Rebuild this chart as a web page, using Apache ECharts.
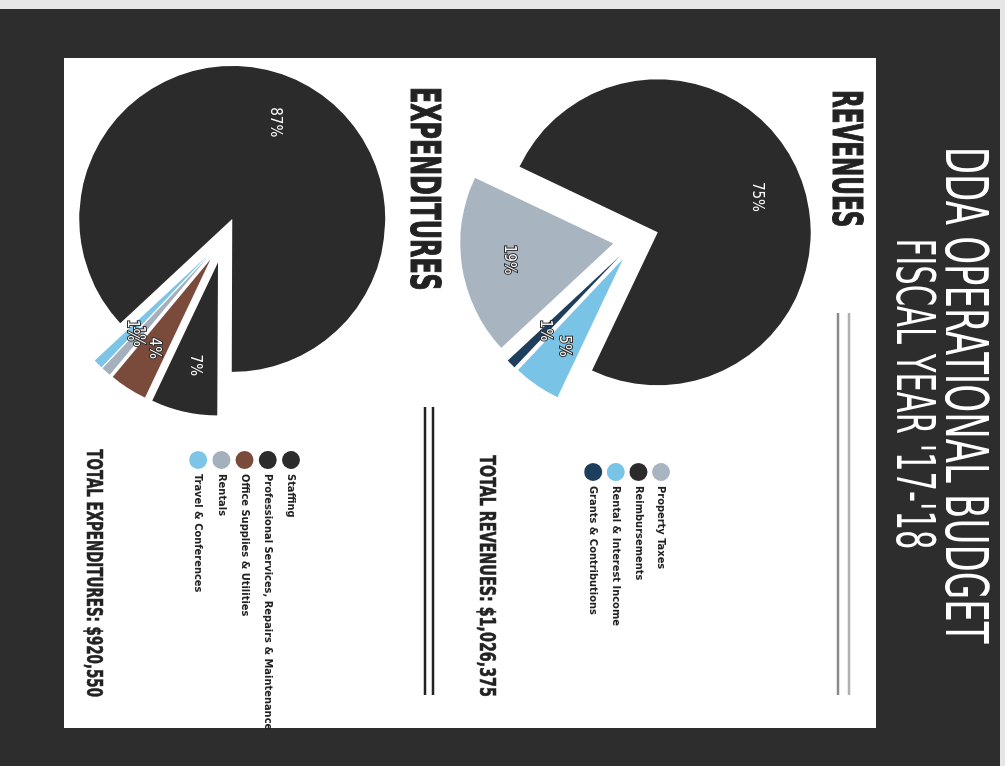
<!DOCTYPE html>
<html>
<head>
<meta charset="utf-8">
<script src="https://cdn.jsdelivr.net/npm/echarts@6/dist/echarts.min.js"></script>
<style>
  html, body { margin: 0; padding: 0; background: #2d2d2d; overflow: hidden; width: 1005px; height: 766px; }
  /* The budget sheet is laid out portrait and turned a quarter-turn clockwise onto the landscape window. */
  #sheet {
    position: absolute; left: 0; top: 0;
    width: 766px; height: 1005px;
    transform-origin: 0 0;
    transform: translate(1005px, 0) rotate(90deg);
  }
</style>
</head>
<body>
<div id="sheet"></div>
<script>
// Revenue breakdown (share of total, %)
const revenueCategories = ['Property Taxes', 'Reimbursements', 'Rental & Interest Income', 'Grants & Contributions'];
const revenueShares = [19, 75, 5, 1];
const revenueColors = ['#a9b4c1', '#2b2b2b', '#78c3e6', '#1d3e5c'];

// Expenditure breakdown (share of total, %)
const expenditureCategories = ['Staffing', 'Professional Services, Repairs & Maintenance', 'Office Supplies & Utilities', 'Rentals', 'Travel & Conferences'];
const expenditureShares = [87, 7, 4, 1, 1];
const expenditureColors = ['#2b2b2b', '#2b2b2b', '#7a4a3b', '#a5b0bd', '#7cc5e6'];

// Headline texts
const titleLines = ['DDA OPERATIONAL BUDGET', "FISCAL YEAR '17-'18"];
const sectionTitles = ['REVENUES', 'EXPENDITURES'];
const totalLines = ['TOTAL REVENUES: $1,026,375', 'TOTAL EXPENDITURES: $920,550'];

const NARROW = '"Liberation Sans Narrow", "DejaVu Sans Condensed", sans-serif';
const DARK = '#2d2d2d';

function items(names, values, colors) {
  return names.map((n, i) => ({ name: n, value: values[i], selected: true, itemStyle: { color: colors[i] } }));
}

function pieFill(center, names, values, colors) {
  return {
    type: 'pie', center: center, radius: [0, 153], startAngle: 313, clockwise: true,
    selectedMode: 'multiple', selectedOffset: 23, avoidLabelOverlap: false,
    label: { show: false }, labelLine: { show: false },
    emphasis: { disabled: true }, select: { itemStyle: { borderWidth: 0 } },
    animation: false, z: 2,
    data: items(names, values, colors)
  };
}

// Transparent ring carrying the percentage labels two-thirds of the way out
function pieLabels(center, names, values) {
  return {
    type: 'pie', center: center, radius: [52, 153], startAngle: 313, clockwise: true,
    selectedMode: 'multiple', selectedOffset: 23, avoidLabelOverlap: false, silent: true,
    percentPrecision: 0, minShowLabelAngle: 0,
    itemStyle: { color: 'rgba(0,0,0,0)' },
    label: {
      show: true, position: 'inside', formatter: '{d}%',
      color: '#ffffff', fontFamily: NARROW, fontSize: 15,
      textBorderColor: DARK, textBorderWidth: 2
    },
    labelLayout: { hideOverlap: false },
    labelLine: { show: false },
    emphasis: { disabled: true }, select: { itemStyle: { color: 'rgba(0,0,0,0)', borderWidth: 0 } },
    animation: false, z: 3,
    data: names.map((n, i) => ({ name: n, value: values[i], selected: true }))
  };
}

function text(x, y, str, opts) {
  return {
    type: 'text', x: x, y: y, scaleX: opts.scaleX || 1, z: 50, silent: true,
    style: {
      text: str, x: 0, y: 0,
      align: opts.align || 'left', verticalAlign: 'middle',
      textAlign: opts.align || 'left', textVerticalAlign: 'middle',
      fontFamily: NARROW, fontSize: opts.size, fontWeight: opts.weight || 'normal',
      fill: opts.fill,
      stroke: opts.stroke || null, lineWidth: opts.lineWidth || 0
    }
  };
}

function line(x1, x2, y, color, w) {
  return { type: 'line', z: 40, silent: true, shape: { x1: x1, y1: y, x2: x2, y2: y }, style: { stroke: color, lineWidth: w } };
}

const legendBase = {
  orient: 'vertical', icon: 'circle', itemWidth: 18, itemHeight: 18, padding: 0,
  selectedMode: false,
  textStyle: { color: '#222', fontFamily: NARROW, fontWeight: 'bold', fontSize: 11 }
};

const chart = echarts.init(document.getElementById('sheet'), null, { renderer: 'canvas' });
chart.setOption({
  backgroundColor: DARK,
  animation: false,
  graphic: [
    { type: 'rect', z: -10, silent: true, shape: { x: 0, y: 0, width: 9, height: 1005 }, style: { fill: '#e6e6e6' } },
    { type: 'rect', z: -10, silent: true, shape: { x: 0, y: 0, width: 766, height: 5 }, style: { fill: '#e6e6e6' } },
    { type: 'rect', z: -5, silent: true, shape: { x: 58, y: 129, width: 670, height: 812 }, style: { fill: '#ffffff' } },
    text(395, 44, titleLines[0], { size: 58, fill: '#ffffff', align: 'center', scaleX: 0.68 }),
    text(394, 94, titleLines[1], { size: 54, fill: '#ffffff', align: 'center', scaleX: 0.63 }),
    text(90, 162, sectionTitles[0], { size: 40, weight: 'bold', fill: '#222', stroke: '#222', lineWidth: 1.2, scaleX: 0.64 }),
    text(87, 584, sectionTitles[1], { size: 40, weight: 'bold', fill: '#222', stroke: '#222', lineWidth: 1.2, scaleX: 0.66 }),
    text(697, 520, totalLines[0], { size: 21, weight: 'bold', fill: '#222', stroke: '#222', lineWidth: 0.6, align: 'right', scaleX: 0.756 }),
    text(697, 913, totalLines[1], { size: 21, weight: 'bold', fill: '#222', stroke: '#222', lineWidth: 0.6, align: 'right', scaleX: 0.71 }),
    line(313, 695, 156, '#b0b0b0', 2.5),
    line(313, 695, 167, '#8a8a8a', 2.5),
    line(407, 695, 572, '#222', 2.5),
    line(407, 695, 580, '#222', 2.5)
  ],
  legend: [
    Object.assign({}, legendBase, { left: 463, top: 335, itemGap: 4.6, data: revenueCategories }),
    Object.assign({}, legendBase, { left: 451, top: 705, itemGap: 5.2, data: expenditureCategories })
  ],
  series: [
    pieFill([240, 369], revenueCategories, revenueShares, revenueColors),
    pieFill([240, 782], expenditureCategories, expenditureShares, expenditureColors),
    pieLabels([240, 369], revenueCategories, revenueShares),
    pieLabels([240, 782], expenditureCategories, expenditureShares)
  ]
});
</script>
</body>
</html>
